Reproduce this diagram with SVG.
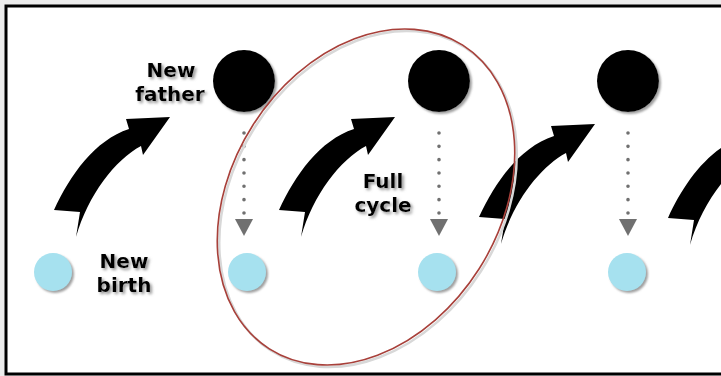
<svg xmlns="http://www.w3.org/2000/svg" width="721" height="376" viewBox="0 0 721 376">
<style>
.lbl{font-family:"DejaVu Sans","Open Sans",sans-serif;font-weight:bold;font-size:20px;fill:#000;text-anchor:middle;filter:url(#tsh)}
.father{fill:#000;filter:url(#csh)}
.birth{fill:#a6e1ef;filter:url(#csh)}
.dots{stroke:#707070;stroke-width:3.6;stroke-linecap:round;stroke-dasharray:0 13.33;fill:none}
.tri{fill:#707070}
.big{fill:#000}
</style>
<defs>
<filter id="tsh" x="-20%" y="-30%" width="150%" height="170%"><feDropShadow dx="2" dy="2" stdDeviation="1.4" flood-color="#777" flood-opacity="0.8"/></filter>
<filter id="csh" x="-20%" y="-20%" width="150%" height="150%"><feDropShadow dx="2" dy="2" stdDeviation="1.2" flood-color="#888" flood-opacity="0.8"/></filter>
<path id="curv" d="M 54,210 C 70,175 95,140 129,129 L 126,119 L 170,117 L 143,155 L 141,146 C 115,160 88,195 76,237 L 80,212 Z"/>
</defs>
<rect x="0" y="0" width="721" height="376" fill="#ececec"/>
<rect x="6" y="6" width="730" height="368" fill="#fff" stroke="#000" stroke-width="3"/>

<g id="connectors">
<use href="#curv" class="big"/>
<use href="#curv" class="big" transform="translate(225,0)"/>
<use href="#curv" class="big" transform="translate(425,7)"/>
<use href="#curv" class="big" transform="translate(614,8)"/>
<line class="dots" x1="244" y1="133" x2="244" y2="214"/>
<polygon class="tri" points="235,219 253,219 244,236"/>
<line class="dots" x1="439" y1="133" x2="439" y2="214"/>
<polygon class="tri" points="430,219 448,219 439,236"/>
<line class="dots" x1="628" y1="133" x2="628" y2="214"/>
<polygon class="tri" points="619,219 637,219 628,236"/>
</g>

<g id="father1"><circle class="father" cx="244" cy="81" r="31"/></g>
<g id="father2"><circle class="father" cx="439" cy="81" r="31"/></g>
<g id="father3"><circle class="father" cx="628" cy="81" r="31"/></g>

<g id="birth1"><circle class="birth" cx="53" cy="272" r="19"/></g>
<g id="birth2"><circle class="birth" cx="247" cy="272" r="19"/></g>
<g id="birth3"><circle class="birth" cx="437" cy="272" r="19"/></g>
<g id="birth4"><circle class="birth" cx="627" cy="272" r="19"/></g>

<g id="label-new-father">
<text class="lbl" x="171" y="77"><tspan x="171" y="77">New</tspan><tspan x="170" y="101">father</tspan></text>
</g>
<g id="label-new-birth">
<text class="lbl" x="124" y="268"><tspan x="124" y="268">New</tspan><tspan x="124" y="292">birth</tspan></text>
</g>
<g id="label-full-cycle">
<text class="lbl" x="383" y="188"><tspan x="383" y="188">Full</tspan><tspan x="383" y="212">cycle</tspan></text>
</g>

<g id="full-cycle-ellipse">
<ellipse cx="368" cy="199" rx="134" ry="180" transform="rotate(32.5 368 199)" fill="none" stroke="#d8d8d8" stroke-width="2.5"/>
<ellipse cx="366" cy="197" rx="134" ry="180" transform="rotate(32.5 366 197)" fill="none" stroke="#a8403a" stroke-width="1.6"/>
</g>
</svg>
